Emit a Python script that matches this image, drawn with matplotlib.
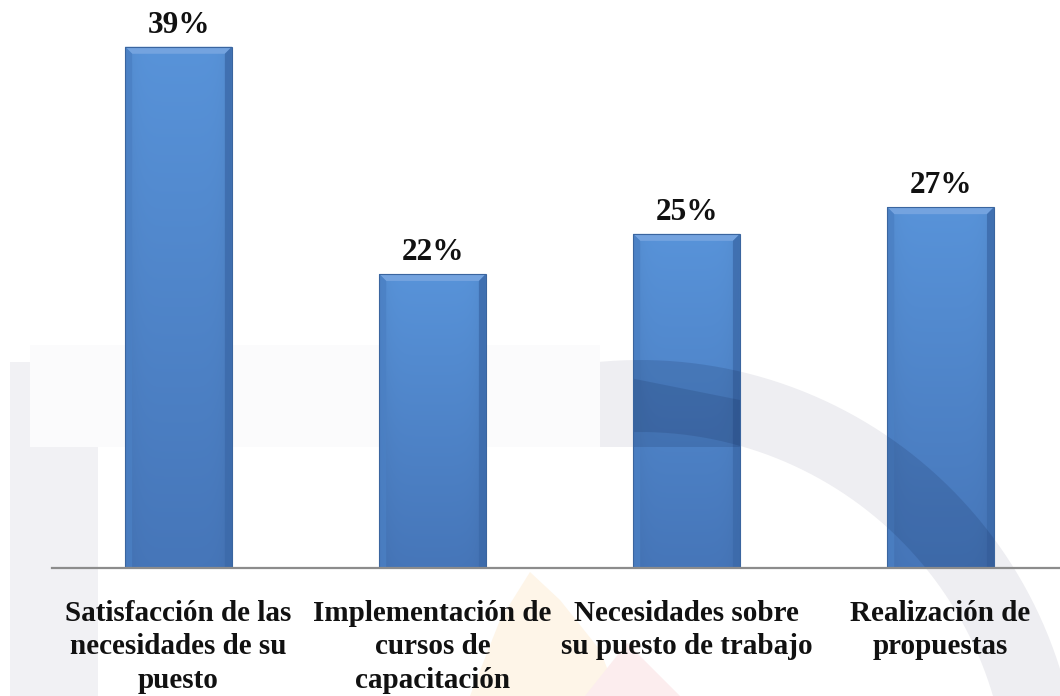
import numpy as np
import matplotlib
matplotlib.use("Agg")
import matplotlib.pyplot as plt
import matplotlib.transforms as mtransforms
from matplotlib.patches import Polygon
from matplotlib.colors import to_rgb

# Datos de la gráfica
categorias = [
    "Satisfacción de las\nnecesidades de su\npuesto",
    "Implementación de\ncursos de\ncapacitación",
    "Necesidades sobre\nsu puesto de trabajo",
    "Realización de\npropuestas",
]
porcentajes = [39, 22, 25, 27]
etiquetas = [f"{v}%" for v in porcentajes]

plt.rcParams['font.family'] = ['Liberation Serif', 'DejaVu Serif']

W, H, DPI = 1060, 696, 100
fig = plt.figure(figsize=(W / DPI, H / DPI), dpi=DPI)
fig.patch.set_facecolor('white')
ax = fig.add_axes([52 / W, 128 / H, 1 - 52 / W, 1 - 128 / H])
ax.set_facecolor('none')

# coordenadas en pixeles (origen arriba a la izquierda) para la marca de agua
px = mtransforms.Affine2D().scale(1 / DPI, -1 / DPI).translate(0, H / DPI) + fig.dpi_scale_trans


def arco(cx, cy, r0, r1, a0, a1, n=60):
    t = np.radians(np.linspace(a0, a1, n))
    ext = np.c_[cx + r1 * np.cos(t), cy - r1 * np.sin(t)]
    inn = np.c_[cx + r0 * np.cos(t[::-1]), cy - r0 * np.sin(t[::-1])]
    return np.vstack([ext, inn])


fondo = [
    (arco(640, 800, 368, 440, 10, 98), '#eeeef2', True),
    (np.array([[565, 447], [740, 447], [740, 400], [590, 370]]), '#eeeef2', True),
    (np.array([[10, 362], [45, 362], [70, 376], [88, 400], [98, 432], [98, 696], [10, 696]]), '#f1f1f4', False),
    (np.array([[30, 345], [600, 345], [600, 447], [30, 447]]), '#fbfbfc', False),
    (np.array([[530, 572], [560, 600], [600, 650], [618, 696], [470, 696], [500, 620]]), '#fef5e8', False),
    (np.array([[627, 643], [680, 696], [585, 696]]), '#fcedee', False),
]
for pts, col, _ in fondo:
    ax.add_patch(Polygon(pts, closed=True, transform=px, facecolor=col,
                         edgecolor='none', zorder=0.2, clip_on=False))

x = np.arange(len(porcentajes))
ancho = 0.42
barras = ax.bar(x, porcentajes, width=ancho, color='#4f86cc', edgecolor='none', zorder=1)

ax.set_xlim(-0.498, 3.47)
ax.set_ylim(0, 42.5)

# relleno degradado y bisel de cada barra
arriba, abajo = np.array(to_rgb('#5893d9')), np.array(to_rgb('#4676b9'))
t = np.linspace(0, 1, 120)[:, None, None]
grad = arriba + (abajo - arriba) * t
grad = np.repeat(grad, 40, axis=1)
lado = np.linspace(-1, 1, 40)
grad = grad * (1 - 0.06 * np.abs(lado) ** 6)[None, :, None]

dx, dy = 7 / 254, 7 / 13.36
for b in barras:
    x0, x1, h = b.get_x(), b.get_x() + b.get_width(), b.get_height()
    im = ax.imshow(grad, extent=(x0, x1, 0, h), aspect='auto', zorder=1.1,
                   interpolation='bilinear')
    im.set_clip_path(b)
    ax.add_patch(Polygon([(x0, h), (x1, h), (x1 - dx, h - dy), (x0 + dx, h - dy)],
                         facecolor='#74a3df', edgecolor='none', zorder=1.2))
    ax.add_patch(Polygon([(x0, h), (x0 + dx, h - dy), (x0 + dx, 0), (x0, 0)],
                         facecolor='#4b80c4', edgecolor='none', alpha=0.8, zorder=1.2))
    ax.add_patch(Polygon([(x1, h), (x1 - dx, h - dy), (x1 - dx, 0), (x1, 0)],
                         facecolor='#3c6aaa', edgecolor='none', alpha=0.8, zorder=1.2))
    ax.add_patch(Polygon([(x0, 0), (x1, 0), (x1, h), (x0, h)], fill=False,
                         edgecolor='#3a659f', lw=0.8, zorder=1.3))
    # la marca de agua oscurece la barra donde la cruza
    for pts, col, sobre in fondo:
        if sobre:
            p = Polygon(pts, closed=True, transform=px, facecolor='#0c1c44',
                        alpha=0.14, edgecolor='none', zorder=1.25)
            ax.add_patch(p)
            p.set_clip_path(b)

for xi, v, lab in zip(x, porcentajes, etiquetas):
    ax.annotate(lab, (xi, v), xytext=(0, 5), textcoords='offset points',
                ha='center', va='bottom', fontsize=22.5, fontweight='bold',
                color='#111111', zorder=3)

for s in ['top', 'right', 'left']:
    ax.spines[s].set_visible(False)
ax.spines['bottom'].set_color('#8c8c8c')
ax.spines['bottom'].set_linewidth(1.6)
ax.spines['bottom'].set_zorder(2.5)
ax.set_yticks([])
ax.set_xticks(x)
ax.set_xticklabels(categorias, fontsize=21, fontweight='bold', color='#111111',
                   linespacing=1.3)
ax.tick_params(axis='x', length=0, pad=23)

fig.savefig('out.png', dpi=DPI)
